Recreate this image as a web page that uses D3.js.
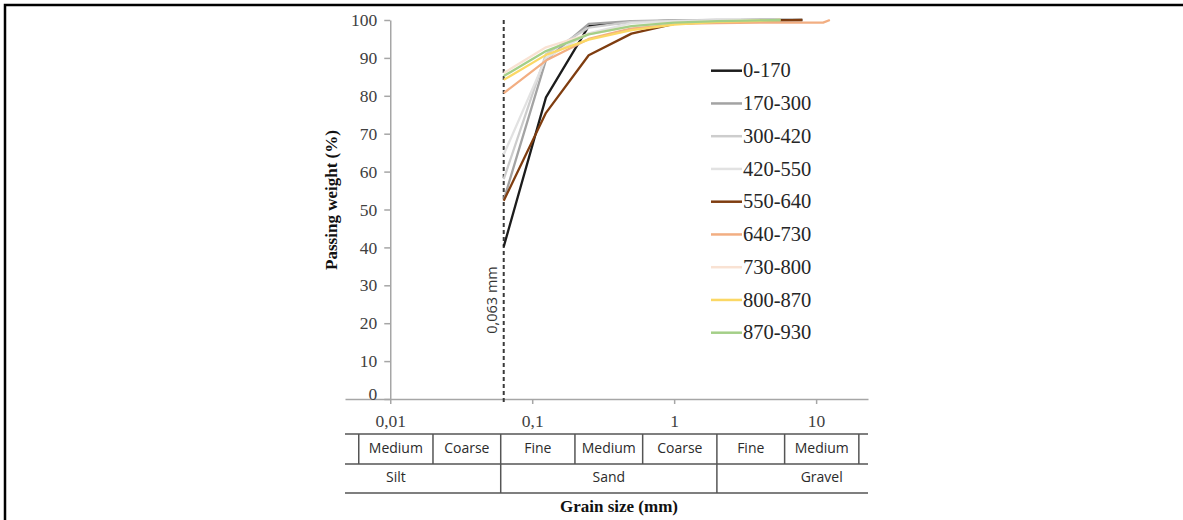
<!DOCTYPE html>
<html>
<head>
<meta charset="utf-8">
<script src="https://cdn.jsdelivr.net/npm/d3@7"></script>
<style>
  body { margin: 0; background: #fff; }
  svg { display: block; }
</style>
</head>
<body>
<svg id="chart" width="1183" height="520"></svg>
<script>
// sieve openings (mm)
var sieves = [0.063, 0.125, 0.25, 0.5, 1, 2, 4, 5.6, 8, 11.2, 12.5];

// depth intervals (legend labels)
var seriesNames = [
  "0-170",
  "170-300",
  "300-420",
  "420-550",
  "550-640",
  "640-730",
  "730-800",
  "800-870",
  "870-930",
];

// passing weight (%) per sieve, one list per interval
var s0_170 = [40.2, 79.6, 98.4, 99.5, 99.8, 99.9, 100, 100, 100];
var s170_300 = [52.5, 89.5, 99.0, 99.7, 99.9, 100, 100];
var s300_420 = [58.0, 91.0, 98.0, 99.5, 99.8, 100, 100];
var s420_550 = [64.5, 90.0, 96.5, 99.2, 99.7, 99.9, 100];
var s550_640 = [52.3, 75.5, 90.7, 96.4, 99.0, 99.5, 99.7, 99.9, 100];
var s640_730 = [80.7, 89.3, 95.0, 97.8, 99.0, 99.2, 99.3, 99.3, 99.3, 99.3, 100];
var s730_800 = [86.0, 92.8, 96.3, 98.3, 99.3, 99.7, 99.9, 100];
var s800_870 = [84.2, 90.8, 94.8, 97.3, 98.8, 99.5, 99.8, 100];
var s870_930 = [85.2, 91.8, 96.2, 98.4, 99.3, 99.7, 99.9, 100];

var seriesValues = [
  s0_170, s170_300, s300_420, s420_550, s550_640,
  s640_730, s730_800, s800_870, s870_930,
];

var seriesColors = [
  "#1c1c1c", "#a3a3a3", "#cdcdcd", "#e2e2e2", "#7f3d10",
  "#f2ae82", "#f9e2d3", "#fbd865", "#a4cf88",
];

var xTicks = [0.01, 0.1, 1, 10];
var yTicks = [0, 10, 20, 30, 40, 50, 60, 70, 80, 90, 100];
var limitSize = 0.063;

// grain size classes (mm)
var subClasses = ["Medium", "Coarse", "Fine", "Medium", "Coarse", "Fine", "Medium"];
var subBounds = [0.006, 0.02, 0.06, 0.2, 0.6, 2, 6, 20];
var mainClasses = ["Silt", "Sand", "Gravel"];
var mainBounds = [0.002, 0.06, 2, 60];

var svg = d3.select("#chart"),
  width = +svg.attr("width"),
  height = +svg.attr("height");

var serif = "'Liberation Serif', 'Times New Roman', serif",
  sans = "'Open Sans', 'Noto Sans', sans-serif",
  axisGray = "#a6a6a6",
  textGray = "#404040";

var x = d3.scaleLog().domain([0.0048, 23.2]).range([345, 868]);
var y = d3.scaleLinear().domain([0, 100]).range([399, 20]);

// frame (top + left only, rest is cropped)
svg
  .append("path")
  .attr("d", "M5," + height + "V5H" + width)
  .attr("fill", "none")
  .attr("stroke", "#000")
  .attr("stroke-width", 2.5);

// x axis
var gx = svg
  .append("g")
  .attr("transform", "translate(0," + y(0) + ")")
  .call(
    d3
      .axisBottom(x)
      .tickValues(xTicks)
      .tickSize(5)
      .tickSizeOuter(0)
      .tickPadding(11)
      .tickFormat(function (d) {
        return String(d).replace(".", ",");
      })
  );
gx.select(".domain").attr("stroke", axisGray).attr("stroke-width", 1.5);
gx.selectAll(".tick line").attr("stroke", axisGray).attr("stroke-width", 1.5);
gx.selectAll(".tick text")
  .attr("font-family", serif)
  .attr("font-size", 17.5)
  .attr("fill", textGray);

// y axis
var gy = svg
  .append("g")
  .attr("transform", "translate(" + x(0.01) + ",0)")
  .call(d3.axisLeft(y).tickValues(yTicks).tickSize(6).tickSizeOuter(0).tickPadding(7));
gy.select(".domain").attr("stroke", axisGray).attr("stroke-width", 1.5);
gy.selectAll(".tick line").attr("stroke", axisGray).attr("stroke-width", 1.5);
gy.selectAll(".tick text")
  .attr("font-family", serif)
  .attr("font-size", 17.5)
  .attr("fill", textGray)
  .attr("y", function (d) {
    return d === 0 ? -5 : 0;
  });

svg
  .append("text")
  .attr("transform", "translate(333,200) rotate(-90)")
  .attr("text-anchor", "middle")
  .attr("dominant-baseline", "middle")
  .attr("font-family", serif)
  .attr("font-weight", "bold")
  .attr("font-size", 17)
  .attr("fill", "#111")
  .text("Passing weight (%)");

// 0,063 mm limit
svg
  .append("line")
  .attr("x1", x(limitSize))
  .attr("x2", x(limitSize))
  .attr("y1", y(100))
  .attr("y2", y(0) + 5)
  .attr("stroke", "#3a3a3a")
  .attr("stroke-width", 2)
  .attr("stroke-dasharray", "4,3");

svg
  .append("text")
  .attr("transform", "translate(" + (x(limitSize) - 11) + ",300) rotate(-90)")
  .attr("text-anchor", "middle")
  .attr("dominant-baseline", "middle")
  .attr("font-family", sans)
  .attr("font-size", 14.5)
  .attr("fill", "#333")
  .text("0,063 mm");

// curves
var line = d3
  .line()
  .x(function (d) {
    return x(d.size);
  })
  .y(function (d) {
    return y(d.value);
  });

var curves = seriesNames.map(function (name, i) {
  return {
    name: name,
    color: seriesColors[i],
    points: seriesValues[i].map(function (v, k) {
      return { size: sieves[k], value: v };
    }),
  };
});

svg
  .append("g")
  .selectAll("path")
  .data(curves)
  .enter()
  .append("path")
  .attr("d", function (d) {
    return line(d.points);
  })
  .attr("fill", "none")
  .attr("stroke", function (d) {
    return d.color;
  })
  .attr("stroke-width", 2.3)
  .attr("stroke-linejoin", "round");

// legend
var legend = svg
  .append("g")
  .selectAll("g")
  .data(curves)
  .enter()
  .append("g")
  .attr("transform", function (d, i) {
    return "translate(711," + (70.7 + i * 32.75) + ")";
  });

legend
  .append("line")
  .attr("x1", 0)
  .attr("x2", 31)
  .attr("stroke", function (d) {
    return d.color;
  })
  .attr("stroke-width", 2.5);

legend
  .append("text")
  .attr("x", 32)
  .attr("dy", "0.33em")
  .attr("font-family", serif)
  .attr("font-size", 20.5)
  .attr("fill", "#262626")
  .text(function (d) {
    return d.name;
  });

// classification table under the axis
var rowTop = 434,
  rowMid = 464,
  rowBot = 493,
  tableStroke = "#555";

var table = svg.append("g");

table
  .selectAll(".hline")
  .data([rowTop, rowMid, rowBot])
  .enter()
  .append("line")
  .attr("class", "hline")
  .attr("x1", x.range()[0])
  .attr("x2", x.range()[1])
  .attr("y1", function (d) {
    return d;
  })
  .attr("y2", function (d) {
    return d;
  })
  .attr("stroke", tableStroke)
  .attr("stroke-width", 1.5);

table
  .selectAll(".vsub")
  .data(subBounds)
  .enter()
  .append("line")
  .attr("class", "vsub")
  .attr("x1", function (d) {
    return x(d);
  })
  .attr("x2", function (d) {
    return x(d);
  })
  .attr("y1", rowTop)
  .attr("y2", rowMid)
  .attr("stroke", tableStroke)
  .attr("stroke-width", 1.5);

table
  .selectAll(".vmain")
  .data(mainBounds.slice(1, 3))
  .enter()
  .append("line")
  .attr("class", "vmain")
  .attr("x1", function (d) {
    return x(d);
  })
  .attr("x2", function (d) {
    return x(d);
  })
  .attr("y1", rowMid)
  .attr("y2", rowBot)
  .attr("stroke", tableStroke)
  .attr("stroke-width", 1.5);

table
  .selectAll(".subtxt")
  .data(subClasses)
  .enter()
  .append("text")
  .attr("class", "subtxt")
  .attr("x", function (d, i) {
    return x(Math.sqrt(subBounds[i] * subBounds[i + 1]));
  })
  .attr("y", (rowTop + rowMid) / 2)
  .attr("text-anchor", "middle")
  .attr("dominant-baseline", "middle")
  .attr("font-family", sans)
  .attr("font-size", 14)
  .attr("fill", "#2b2b2b")
  .text(function (d) {
    return d;
  });

table
  .selectAll(".maintxt")
  .data(mainClasses)
  .enter()
  .append("text")
  .attr("class", "maintxt")
  .attr("x", function (d, i) {
    return x(Math.sqrt(mainBounds[i] * mainBounds[i + 1]));
  })
  .attr("y", (rowMid + rowBot) / 2)
  .attr("text-anchor", "middle")
  .attr("dominant-baseline", "middle")
  .attr("font-family", sans)
  .attr("font-size", 14)
  .attr("fill", "#2b2b2b")
  .text(function (d) {
    return d;
  });

svg
  .append("text")
  .attr("x", 619)
  .attr("y", 508)
  .attr("text-anchor", "middle")
  .attr("dominant-baseline", "middle")
  .attr("font-family", serif)
  .attr("font-weight", "bold")
  .attr("font-size", 17)
  .attr("fill", "#111")
  .text("Grain size (mm)");
</script>
</body>
</html>
